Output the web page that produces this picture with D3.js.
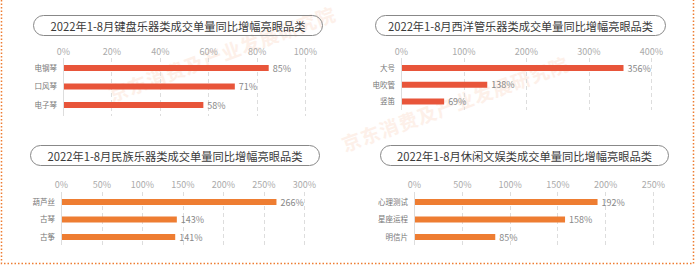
<!DOCTYPE html>
<html><head><meta charset="utf-8">
<script src="https://cdn.jsdelivr.net/npm/d3@7"></script>
<style>body{margin:0;background:#fff;}svg{display:block;}</style>
</head><body>
<svg id="c" width="695" height="266"></svg>
<script>
const titles = [
  "2022年1-8月键盘乐器类成交单量同比增幅亮眼品类",
  "2022年1-8月西洋管乐器类成交单量同比增幅亮眼品类",
  "2022年1-8月民族乐器类成交单量同比增幅亮眼品类",
  "2022年1-8月休闲文娱类成交单量同比增幅亮眼品类"
];
const categories1 = ["电钢琴", "口风琴", "电子琴"];
const values1 = [85, 71, 58];
const categories2 = ["大号", "电吹管", "竖笛"];
const values2 = [356, 138, 69];
const categories3 = ["葫芦丝", "古琴", "古筝"];
const values3 = [266, 143, 141];
const categories4 = ["心理测试", "星座运程", "明信片"];
const values4 = [192, 158, 85];
const ticks1 = [0, 20, 40, 60, 80, 100];
const ticks2 = [0, 100, 200, 300, 400];
const ticks3 = [0, 50, 100, 150, 200, 250, 300];
const ticks4 = [0, 50, 100, 150, 200, 250];
const watermark = "京东消费及产业发展研究院";

const panels = [
  {title: titles[0], cats: categories1, vals: values1, ticks: ticks1, color: "#E8553A",
   pill: [33, 15, 289, 20], tw: 255, x0: 63, x1: 305, tickY: 52, barY: [68, 105], gridY: [58, 116]},
  {title: titles[1], cats: categories2, vals: values2, ticks: ticks2, color: "#E8553A",
   pill: [375, 15, 290, 20], tw: 265, x0: 401, x1: 651, tickY: 52, barY: [68, 101.5], gridY: [58, 110]},
  {title: titles[2], cats: categories3, vals: values3, ticks: ticks3, color: "#EE7D32",
   pill: [30, 145, 289, 20], tw: 255, x0: 61, x1: 304, tickY: 185, barY: [202, 237], gridY: [192, 245]},
  {title: titles[3], cats: categories4, vals: values4, ticks: ticks4, color: "#EE7D32",
   pill: [380, 145, 288, 20], tw: 255, x0: 414, x1: 653, tickY: 185, barY: [202, 237], gridY: [192, 245]}
];

const svg = d3.select("#c");
const font = "'Noto Sans CJK SC', 'Noto Sans', sans-serif";

// watermarks
[[112, 102], [345, 152]].forEach(([x, y]) => {
  svg.append("text").attr("x", x).attr("y", y)
    .attr("transform", `rotate(-20,${x},${y})`)
    .attr("font-family", font).attr("font-size", 19).attr("font-weight", 700)
    .attr("fill", "#fdf0e9")
    .attr("letter-spacing", 1)
    .text(watermark);
});

// dotted border
svg.append("path")
  .attr("d", "M1.5,0 V263.5 H693.5 V0")
  .attr("fill", "none").attr("stroke", "#EE7D32").attr("stroke-width", 1.5)
  .attr("stroke-dasharray", "1.5,2");

panels.forEach(p => {
  const g = svg.append("g");
  const [px, py, pw, ph] = p.pill;
  g.append("rect").attr("x", px + 0.5).attr("y", py + 0.5).attr("width", pw).attr("height", ph)
    .attr("rx", ph / 2).attr("fill", "none").attr("stroke", "#888").attr("stroke-width", 1);
  g.append("text").attr("x", px + pw / 2 + 0.5).attr("y", py + ph / 2 + 0.5)
    .attr("text-anchor", "middle").attr("dominant-baseline", "central")
    .attr("font-family", font).attr("font-size", 11.5).attr("fill", "#3a3a3a")
    .attr("textLength", p.tw).attr("lengthAdjust", "spacingAndGlyphs")
    .text(p.title);

  const x = d3.scaleLinear().domain([0, p.ticks[p.ticks.length - 1]]).range([p.x0, p.x1]);
  const y = d3.scalePoint().domain(p.cats).range(p.barY);

  // grid
  g.selectAll(".grid").data(p.ticks.slice(1)).join("line")
    .attr("x1", d => Math.round(x(d)) + 0.5).attr("x2", d => Math.round(x(d)) + 0.5)
    .attr("y1", p.gridY[0]).attr("y2", p.gridY[1])
    .attr("stroke", "#ddd").attr("stroke-width", 1).attr("stroke-dasharray", "4,3");
  g.append("line").attr("x1", Math.round(p.x0) + 0.5).attr("x2", Math.round(p.x0) + 0.5)
    .attr("y1", p.gridY[0]).attr("y2", p.gridY[1]).attr("stroke", "#ddd");

  // top axis labels via d3 axis
  const ax = g.append("g").attr("transform", `translate(0,${p.tickY})`)
    .call(d3.axisTop(x).tickValues(p.ticks).tickFormat(d => d + "%").tickSize(0).tickPadding(0));
  ax.select(".domain").remove();
  ax.selectAll("text").attr("font-family", font).attr("font-size", 9).attr("fill", "#aaa")
    .attr("dy", "0.35em");

  // category labels
  const ay = g.append("g").attr("transform", `translate(${p.x0 - 6},0)`)
    .call(d3.axisLeft(y).tickSize(0).tickPadding(0));
  ay.select(".domain").remove();
  ay.selectAll("text").attr("font-family", font).attr("font-size", 7.5).attr("fill", "#777");

  const data = p.cats.map((c, i) => ({c, v: p.vals[i]}));
  const bh = 6;
  g.selectAll(".bar").data(data).join("rect")
    .attr("x", x(0) + 1).attr("y", d => y(d.c) - bh / 2)
    .attr("width", d => x(d.v) - x(0) - 1).attr("height", bh)
    .attr("fill", p.color);
  g.selectAll(".val").data(data).join("text")
    .attr("x", d => x(d.v) + 4).attr("y", d => y(d.c))
    .attr("dominant-baseline", "central")
    .attr("font-family", font).attr("font-size", 9).attr("fill", "#888")
    .text(d => d.v + "%");
});
</script>
</body></html>
